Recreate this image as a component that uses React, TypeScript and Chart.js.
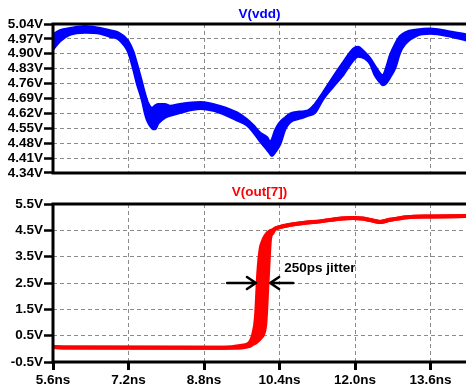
import React, { useEffect, useRef } from 'react';
import { Chart, registerables } from 'chart.js';

Chart.register(...registerables);

// ---- axes ----
const xTicks = [5.6, 7.2, 8.8, 10.4, 12.0, 13.6];
const xMin = 5.6;
const xMax = 14.35;
const vddTicks = [4.34, 4.41, 4.48, 4.55, 4.62, 4.69, 4.76, 4.83, 4.9, 4.97, 5.04];
const outTicks = [-0.5, 0.5, 1.5, 2.5, 3.5, 4.5, 5.5];

// ---- V(vdd) band (upper / lower envelope), ns / V ----
const vddTime = [5.60, 5.75, 5.96, 6.28, 6.60, 6.81, 6.98, 7.11, 7.19, 7.30, 7.38, 7.49, 7.55, 7.61, 7.70, 7.76, 7.83, 7.97, 8.08, 8.29, 8.72, 9.14, 9.50, 9.71, 9.84, 9.99, 10.14, 10.20, 10.24, 10.31, 10.41, 10.52, 10.62, 10.83, 11.00, 11.15, 11.32, 11.53, 11.75, 11.96, 12.06, 12.21, 12.32, 12.42, 12.53, 12.59, 12.66, 12.74, 12.85, 12.95, 13.06, 13.31, 13.59, 14.01, 14.35];
const vddUpper = [4.99, 5.01, 5.02, 5.03, 5.02, 5.01, 5.00, 4.98, 4.96, 4.91, 4.85, 4.76, 4.71, 4.67, 4.645, 4.655, 4.663, 4.663, 4.654, 4.663, 4.672, 4.654, 4.623, 4.591, 4.564, 4.528, 4.506, 4.484, 4.497, 4.542, 4.578, 4.60, 4.618, 4.627, 4.632, 4.663, 4.717, 4.789, 4.86, 4.923, 4.932, 4.905, 4.878, 4.843, 4.807, 4.798, 4.834, 4.892, 4.946, 4.982, 5.00, 5.013, 5.018, 5.004, 4.991];
const vddLower = [4.92, 4.96, 4.99, 5.00, 4.995, 4.98, 4.97, 4.94, 4.91, 4.83, 4.76, 4.68, 4.62, 4.58, 4.55, 4.546, 4.573, 4.60, 4.609, 4.623, 4.641, 4.623, 4.587, 4.564, 4.533, 4.488, 4.448, 4.43, 4.421, 4.439, 4.475, 4.546, 4.578, 4.596, 4.609, 4.623, 4.686, 4.744, 4.802, 4.869, 4.887, 4.878, 4.852, 4.80, 4.766, 4.753, 4.762, 4.789, 4.834, 4.905, 4.946, 4.986, 4.995, 4.982, 4.964];

// ---- V(out[7]) band (earliest / latest edge), ns / V ----
const outTime = [5.6, 5.9, 9.0, 9.4, 9.6, 9.75, 9.85, 9.9, 9.95, 10.0, 10.05, 10.1, 10.15, 10.2, 10.25, 10.3, 10.4, 10.6, 10.9, 11.3, 11.62, 11.96, 12.15, 12.32, 12.53, 12.74, 13.1, 13.59, 14.35];
const outEarly = [0.07, 0.05, 0.04, 0.06, 0.12, 0.2, 0.6, 1.2, 2.9, 3.8, 4.1, 4.28, 4.4, 4.47, 4.5, 4.56, 4.62, 4.7, 4.78, 4.85, 4.93, 4.97, 4.95, 4.89, 4.82, 4.9, 5.0, 5.03, 5.04];
const outLate = [0.07, 0.05, 0.04, 0.04, 0.05, 0.1, 0.2, 0.25, 0.32, 0.42, 0.55, 1.0, 2.7, 4.2, 4.4, 4.55, 4.62, 4.7, 4.78, 4.85, 4.93, 4.97, 4.95, 4.89, 4.82, 4.9, 5.0, 5.03, 5.04];

// ---- jitter annotation (data units) ----
const jitterLevel = 2.5;
const leftArrow = [9.29, 9.9];
const rightArrow = [10.69, 10.2];
const jitterLabel = '250ps jitter';
const jitterLabelAt = [10.5, 3.05];

const FONT = '"Liberation Sans", Arial, sans-serif';
const fontSpec = { family: FONT, size: 13.5, weight: 'bold' as const };

const framePlugin = {
  id: 'frame',
  afterDraw(chart: any) {
    const { ctx, chartArea: a } = chart;
    ctx.save();
    ctx.strokeStyle = '#000';
    ctx.lineWidth = 3;
    ctx.beginPath();
    ctx.moveTo(a.left - 1.5, a.top);
    ctx.lineTo(a.right, a.top);
    ctx.moveTo(a.left - 1.5, a.bottom);
    ctx.lineTo(a.right, a.bottom);
    ctx.moveTo(a.left, a.top);
    ctx.lineTo(a.left, a.bottom);
    ctx.stroke();
    ctx.restore();
  },
};

const jitterPlugin = {
  id: 'jitter',
  afterDraw(chart: any) {
    const { ctx } = chart;
    const xs = chart.scales.x;
    const ys = chart.scales.y;
    const y = ys.getPixelForValue(jitterLevel);
    const arrow = (from: number, to: number) => {
      const x0 = xs.getPixelForValue(from);
      const x1 = xs.getPixelForValue(to);
      const d = Math.sign(x1 - x0);
      ctx.beginPath();
      ctx.moveTo(x0, y);
      ctx.lineTo(x1, y);
      ctx.moveTo(x1 - d * 9, y - 6);
      ctx.lineTo(x1, y);
      ctx.lineTo(x1 - d * 9, y + 6);
      ctx.stroke();
    };
    ctx.save();
    ctx.strokeStyle = '#000';
    ctx.lineWidth = 2.5;
    ctx.lineCap = 'round';
    ctx.lineJoin = 'round';
    arrow(leftArrow[0], leftArrow[1]);
    arrow(rightArrow[0], rightArrow[1]);
    ctx.fillStyle = '#000';
    ctx.font = `bold 13.5px ${FONT}`;
    ctx.textAlign = 'left';
    ctx.textBaseline = 'middle';
    ctx.fillText(jitterLabel, xs.getPixelForValue(jitterLabelAt[0]), ys.getPixelForValue(jitterLabelAt[1]));
    ctx.restore();
  },
};

function makeOptions(yMin: number, yMax: number, yTicks: number[], digits: number, showX: boolean, padTop: number): any {
  return {
    responsive: false,
    animation: false,
    devicePixelRatio: 1,
    layout: { padding: { top: padTop, left: 0, right: 0, bottom: 0 } },
    plugins: { legend: { display: false }, tooltip: { enabled: false }, title: { display: false } },
    elements: { point: { radius: 0 } },
    scales: {
      x: {
        type: 'linear',
        min: xMin,
        max: xMax,
        afterBuildTicks: (s: any) => { s.ticks = xTicks.map((v) => ({ value: v })); },
        afterFit: (s: any) => { s.height = showX ? 26 : 2; },
        ticks: {
          display: showX,
          color: '#000',
          font: fontSpec,
          padding: 2,
          maxRotation: 0,
          autoSkip: false,
          callback: (v: number) => `${Number(v).toFixed(1)}ns`,
        },
        grid: {
          color: '#8a8a8a',
          lineWidth: 1,
          drawTicks: showX,
          tickLength: 8,
          tickColor: '#000',
          tickWidth: 3,
        },
        border: { display: false, dash: [4, 3] },
      },
      y: {
        type: 'linear',
        min: yMin,
        max: yMax,
        afterBuildTicks: (s: any) => { s.ticks = yTicks.map((v) => ({ value: v })); },
        afterFit: (s: any) => { s.width = 53; },
        ticks: {
          color: '#000',
          font: fontSpec,
          padding: 1,
          autoSkip: false,
          callback: (v: number) => `${Number(v).toFixed(digits)}V`,
        },
        grid: {
          color: '#8a8a8a',
          lineWidth: 1,
          drawTicks: true,
          tickLength: 9,
          tickColor: '#000',
          tickWidth: 2.5,
        },
        border: { display: false, dash: [4, 3] },
      },
    },
  };
}

export default function App() {
  const topRef = useRef<HTMLCanvasElement>(null);
  const botRef = useRef<HTMLCanvasElement>(null);

  useEffect(() => {
    document.body.style.margin = '0';
    const blue = '#0000ff';
    const red = '#ff0000';
    const top = new Chart(topRef.current!, {
      type: 'line',
      data: {
        datasets: [
          {
            data: vddTime.map((t, i) => ({ x: t, y: vddUpper[i] })),
            borderColor: blue,
            borderWidth: 2.5,
            cubicInterpolationMode: 'monotone',
            fill: false,
          },
          {
            data: vddTime.map((t, i) => ({ x: t, y: vddLower[i] })),
            borderColor: blue,
            backgroundColor: blue,
            borderWidth: 2.5,
            cubicInterpolationMode: 'monotone',
            fill: '-1',
          },
        ],
      },
      options: makeOptions(4.34, 5.04, vddTicks, 2, false, 24),
      plugins: [framePlugin],
    } as any);
    const bot = new Chart(botRef.current!, {
      type: 'line',
      data: {
        datasets: [
          {
            data: outTime.map((t, i) => ({ x: t, y: outEarly[i] })),
            borderColor: red,
            borderWidth: 4,
            cubicInterpolationMode: 'monotone',
            fill: false,
          },
          {
            data: outTime.map((t, i) => ({ x: t, y: outLate[i] })),
            borderColor: red,
            backgroundColor: red,
            borderWidth: 4,
            cubicInterpolationMode: 'monotone',
            fill: '-1',
          },
        ],
      },
      options: makeOptions(-0.5, 5.5, outTicks, 1, true, 18),
      plugins: [framePlugin, jitterPlugin],
    } as any);
    return () => {
      top.destroy();
      bot.destroy();
    };
  }, []);

  const titleStyle: React.CSSProperties = {
    position: 'absolute',
    left: 53,
    width: 413,
    textAlign: 'center',
    font: `bold 13.5px ${FONT}`,
    lineHeight: '16px',
    margin: 0,
  };

  return (
    <div style={{ position: 'absolute', left: 0, top: 0, width: 466, height: 388, background: '#fff', overflow: 'hidden' }}>
      <canvas ref={topRef} width={466} height={182} style={{ position: 'absolute', left: 0, top: 0, display: 'block' }} />
      <canvas ref={botRef} width={466} height={202} style={{ position: 'absolute', left: 0, top: 186, display: 'block' }} />
      <div style={{ ...titleStyle, top: 6, color: '#0000ff' }}>V(vdd)</div>
      <div style={{ ...titleStyle, top: 184, color: '#ff0000' }}>V(out[7])</div>
    </div>
  );
}
